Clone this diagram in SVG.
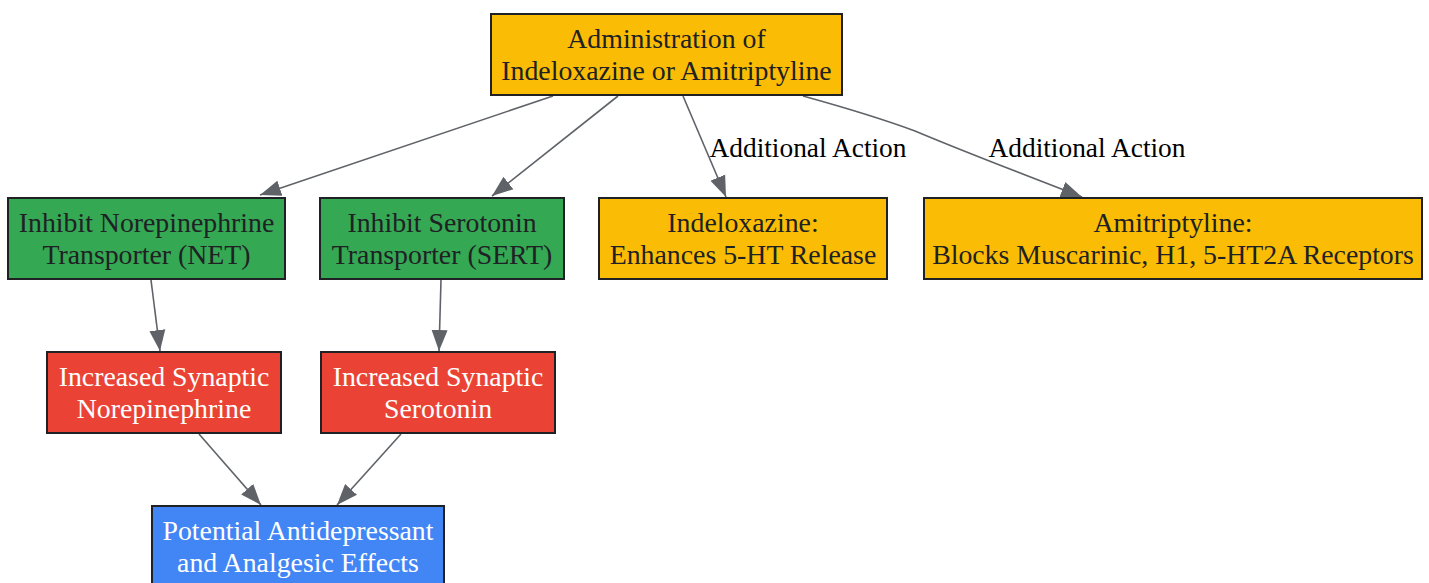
<svg xmlns="http://www.w3.org/2000/svg" width="1429" height="583" viewBox="0 0 1429 583">
<defs>
<style>
.box{stroke:#202124;stroke-width:2}
.yellow{fill:#FBBC05}
.green{fill:#34A853}
.red{fill:#EA4335}
.blue{fill:#4285F4}
.t{font-family:"Liberation Serif","Times New Roman",serif;font-size:27.8px;text-anchor:middle}
.dark{fill:#202124}
.light{fill:#FFFFFF}
.edge{fill:none;stroke:#5F6368;stroke-width:1.6}
.lbl{font-family:"Liberation Serif","Times New Roman",serif;font-size:27.4px;fill:#000000;text-anchor:middle}
</style>
<marker id="arr" markerUnits="userSpaceOnUse" markerWidth="22" markerHeight="18" refX="21" refY="8.5" orient="auto">
<path d="M0,0.5 L21,8.5 L0,16.5 z" fill="#5F6368"/>
</marker>
</defs>
<rect width="1429" height="583" fill="#FFFFFF"/>
<g id="connectors">
<path class="edge" d="M553,96 L260,195" marker-end="url(#arr)"/>
<path class="edge" d="M618,96 L492,196" marker-end="url(#arr)"/>
<path class="edge" d="M683,96 L726,197" marker-end="url(#arr)"/>
<path class="edge" d="M803,96 C850,109 880,118 915,131 C960,150 1030,177 1082,197" marker-end="url(#arr)"/>
<path class="edge" d="M151,280 L160,351" marker-end="url(#arr)"/>
<path class="edge" d="M441,280 L439,351" marker-end="url(#arr)"/>
<path class="edge" d="M199,434 L261,505" marker-end="url(#arr)"/>
<path class="edge" d="M401,434 L337,505" marker-end="url(#arr)"/>
<text class="lbl" x="808" y="157">Additional Action</text>
<text class="lbl" x="1087" y="157">Additional Action</text>
</g>
<g id="admin">
<rect class="box yellow" x="491" y="14" width="351" height="81"/>
<text class="t dark" x="666.5" y="48">Administration of</text>
<text class="t dark" x="666.5" y="80">Indeloxazine or Amitriptyline</text>
</g>
<g id="net">
<rect class="box green" x="8" y="198" width="277" height="81"/>
<text class="t dark" x="146.5" y="232">Inhibit Norepinephrine</text>
<text class="t dark" x="146.5" y="264">Transporter (NET)</text>
</g>
<g id="sert">
<rect class="box green" x="320" y="198" width="244" height="81"/>
<text class="t dark" x="442" y="232">Inhibit Serotonin</text>
<text class="t dark" x="442" y="264">Transporter (SERT)</text>
</g>
<g id="indeloxazine">
<rect class="box yellow" x="599" y="198" width="288" height="81"/>
<text class="t dark" x="743" y="232">Indeloxazine:</text>
<text class="t dark" x="743" y="264">Enhances 5-HT Release</text>
</g>
<g id="amitriptyline">
<rect class="box yellow" x="924" y="198" width="498" height="81"/>
<text class="t dark" x="1173" y="232">Amitriptyline:</text>
<text class="t dark" x="1173" y="264">Blocks Muscarinic, H1, 5-HT2A Receptors</text>
</g>
<g id="incne">
<rect class="box red" x="47" y="352" width="234" height="81"/>
<text class="t light" x="164" y="386">Increased Synaptic</text>
<text class="t light" x="164" y="418">Norepinephrine</text>
</g>
<g id="inc5ht">
<rect class="box red" x="321" y="352" width="234" height="81"/>
<text class="t light" x="438" y="386">Increased Synaptic</text>
<text class="t light" x="438" y="418">Serotonin</text>
</g>
<g id="effects">
<rect class="box blue" x="152" y="506" width="292" height="81"/>
<text class="t light" x="298" y="540">Potential Antidepressant</text>
<text class="t light" x="298" y="572">and Analgesic Effects</text>
</g>
</svg>
